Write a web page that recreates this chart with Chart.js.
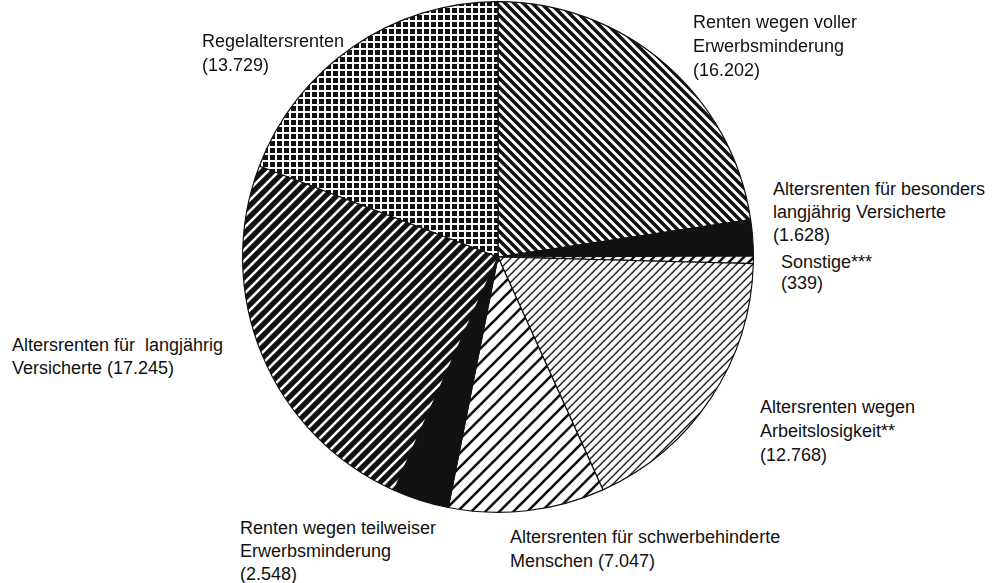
<!DOCTYPE html>
<html>
<head>
<meta charset="utf-8">
<script src="https://cdn.jsdelivr.net/npm/chart.js"></script>
<style>
  html, body { margin: 0; padding: 0; background: #fff; }
  #wrap { position: relative; width: 995px; height: 583px; overflow: hidden; }
  #pie { position: absolute; left: 241px; top: 0px; }
  .lbl { position: absolute; font-family: "Liberation Sans", Arial, Helvetica, sans-serif;
         font-size: 18px; color: #111; white-space: pre; }
</style>
</head>
<body>
<div id="wrap">
  <canvas id="pie" width="514" height="514"></canvas>
</div>
<script>
// Rentenzugänge nach Rentenart (clockwise from 12 o'clock)
const categories = [
  ['Renten wegen voller', 'Erwerbsminderung'],
  ['Altersrenten für besonders', 'langjährig Versicherte'],
  ['Sonstige***'],
  ['Altersrenten wegen', 'Arbeitslosigkeit**'],
  ['Altersrenten für schwerbehinderte', 'Menschen'],
  ['Renten wegen teilweiser', 'Erwerbsminderung'],
  ['Altersrenten für  langjährig', 'Versicherte'],
  ['Regelaltersrenten']
];
const values = [16202, 1628, 339, 12768, 7047, 2548, 17245, 13729];

// label placement: left, top, line height, value on last line or own line
const labelPos = [
  { x: 693, y: 10, lh: 24, inline: false },
  { x: 773, y: 178, lh: 23, inline: false },
  { x: 781, y: 252, lh: 21, inline: false },
  { x: 760, y: 395, lh: 24, inline: false },
  { x: 510, y: 525, lh: 24, inline: true },
  { x: 240, y: 517, lh: 23, inline: false },
  { x: 12, y: 334, lh: 23, inline: true },
  { x: 202, y: 29, lh: 24, inline: false }
];

function fmt(v) {
  return String(v).replace(/\B(?=(\d{3})+(?!\d))/g, '.');
}

// hatch patterns
function tile(size, draw) {
  const c = document.createElement('canvas');
  c.width = size; c.height = size;
  const g = c.getContext('2d');
  draw(g, size);
  return document.getElementById('pie').getContext('2d').createPattern(c, 'repeat');
}
function stripes(size, width, dir, fg, bg) {
  return tile(size, (g, s) => {
    g.fillStyle = bg; g.fillRect(0, 0, s, s);
    g.strokeStyle = fg; g.lineWidth = width; g.lineCap = 'square';
    g.beginPath();
    for (let k = -s; k <= s; k += s) {
      if (dir === '/') { g.moveTo(k, s); g.lineTo(k + s, 0); }
      else { g.moveTo(k, 0); g.lineTo(k + s, s); }
    }
    g.stroke();
  });
}
const grid = tile(7, (g, s) => {
  g.fillStyle = '#fff'; g.fillRect(0, 0, s, s);
  g.fillStyle = '#111'; g.fillRect(1, 1, 5, 5);
});

const fills = [
  stripes(9, 3.5, '\\', '#111', '#fff'), // voller Erwerbsminderung
  '#111',                                // besonders langjährig
  stripes(10, 2.5, '/', '#111', '#fff'), // Sonstige
  stripes(8, 1.3, '/', '#111', '#fff'),  // Arbeitslosigkeit
  stripes(14, 2.6, '/', '#111', '#fff'), // schwerbehinderte
  '#111',                                // teilweise Erwerbsminderung
  stripes(11, 2.6, '/', '#fff', '#111'), // langjährig
  grid                                   // Regelaltersrenten
];

new Chart(document.getElementById('pie'), {
  type: 'pie',
  data: {
    labels: categories.map(l => l.join(' ')),
    datasets: [{
      data: values,
      backgroundColor: fills,
      borderColor: '#111',
      borderWidth: 1.2
    }]
  },
  options: {
    responsive: false,
    animation: false,
    layout: { padding: 1 },
    plugins: {
      legend: { display: false },
      tooltip: { enabled: false }
    }
  }
});

const wrap = document.getElementById('wrap');
categories.forEach((lines, i) => {
  const p = labelPos[i];
  const txt = lines.slice();
  const val = '(' + fmt(values[i]) + ')';
  if (p.inline) txt[txt.length - 1] += ' ' + val; else txt.push(val);
  const d = document.createElement('div');
  d.className = 'lbl';
  d.style.left = p.x + 'px';
  d.style.top = p.y + 'px';
  d.style.lineHeight = p.lh + 'px';
  d.textContent = txt.join('\n');
  wrap.appendChild(d);
});
</script>
</body>
</html>
